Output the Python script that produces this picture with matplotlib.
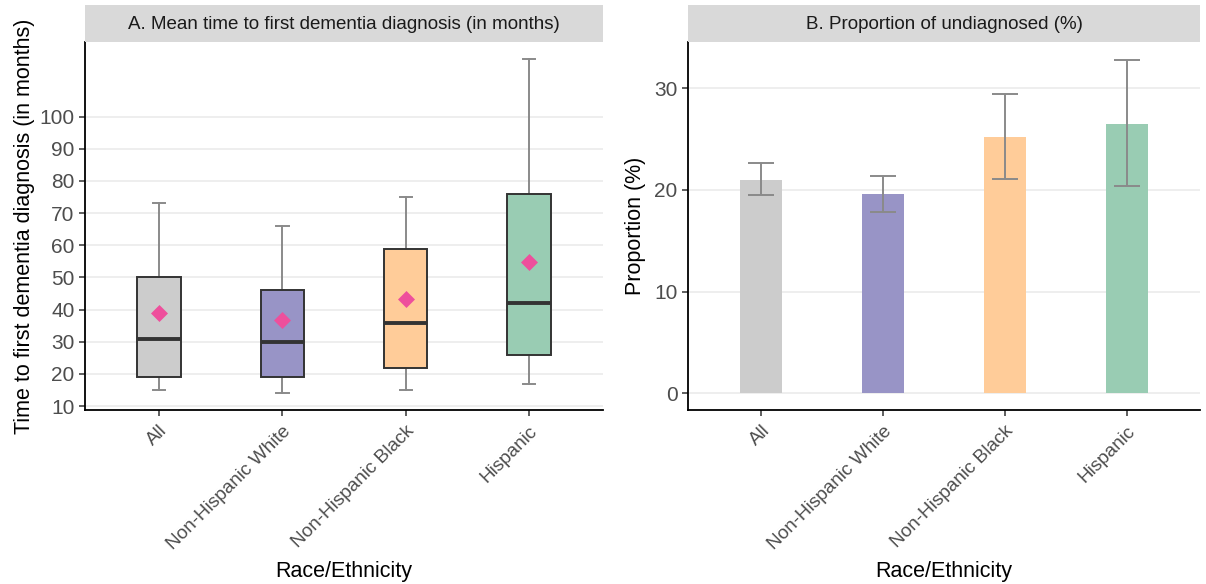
import matplotlib
matplotlib.use("Agg")
import matplotlib.pyplot as plt
from matplotlib.patches import Rectangle

plt.rcParams['font.family'] = ['Liberation Sans', 'DejaVu Sans']

# ---- data ----
groups = ["All", "Non-Hispanic White", "Non-Hispanic Black", "Hispanic"]
colors = ["#CCCCCC", "#9894C6", "#FFCC99", "#99CCB3"]

# Panel A: box stats (months)
whisk_low = [15, 14, 15, 17]
q1 = [19, 19, 22, 26]
median = [31, 30, 36, 42]
q3 = [50, 46, 59, 76]
whisk_high = [73, 66, 75, 118]
mean_time = [38.8, 36.8, 43.4, 54.8]

# Panel B: proportion undiagnosed (%)
prop = [21.0, 19.6, 25.2, 26.5]
prop_low = [19.5, 17.8, 21.1, 20.4]
prop_high = [22.6, 21.4, 29.4, 32.8]

yticks_a = [10, 20, 30, 40, 50, 60, 70, 80, 90, 100]
yticks_b = [0, 10, 20, 30]

W, H = 1206, 584
fig = plt.figure(figsize=(W / 100, H / 100), dpi=100)


def px_axes(x0, y0, x1, y1):
    return fig.add_axes([x0 / W, 1 - y1 / H, (x1 - x0) / W, (y1 - y0) / H])


TICK_COL = "#4D4D4D"
GRID_COL = "#EBEBEB"


def style(ax):
    for s in ["top", "right"]:
        ax.spines[s].set_visible(False)
    for s in ["left", "bottom"]:
        ax.spines[s].set_linewidth(1.3)
        ax.spines[s].set_color("black")
    ax.tick_params(axis="both", colors="#333333", labelcolor=TICK_COL,
                   length=4, width=1.1)
    ax.tick_params(axis="y", labelsize=15)
    ax.tick_params(axis="x", labelsize=13.7, pad=5)
    ax.yaxis.grid(True, color=GRID_COL, linewidth=1.2)
    ax.set_axisbelow(True)


def finish_x(ax):
    ax.set_xticks(range(len(groups)))
    ax.set_xticklabels(groups, rotation=45, ha="right", va="top",
                       rotation_mode="anchor")
    ax.set_xlim(-0.6, len(groups) - 0.4)
    ax.set_xlabel("Race/Ethnicity", fontsize=15.5, labelpad=6)


def strip(x0, x1, text):
    sax = px_axes(x0, 5, x1, 42)
    sax.set_xlim(0, 1)
    sax.set_ylim(0, 1)
    sax.axis("off")
    sax.add_patch(Rectangle((0, 0), 1, 1, facecolor="#D9D9D9",
                            edgecolor="none", transform=sax.transAxes))
    sax.text(0.5, 0.48, text, ha="center", va="center", fontsize=13.5,
             color="#1A1A1A")


# ---- Panel A ----
axA = px_axes(85, 42, 603, 410)
style(axA)
stats = []
for i in range(len(groups)):
    stats.append(dict(med=median[i], q1=q1[i], q3=q3[i],
                      whislo=whisk_low[i], whishi=whisk_high[i],
                      fliers=[]))
bp = axA.bxp(stats, positions=range(len(groups)), widths=0.35,
             patch_artist=True, showfliers=False, capwidths=0.1,
             whiskerprops=dict(color="#8A8A8A", linewidth=1.4),
             capprops=dict(color="#8A8A8A", linewidth=1.4),
             medianprops=dict(color="#333333", linewidth=2.8),
             boxprops=dict(edgecolor="#333333", linewidth=1.4))
for patch, c in zip(bp["boxes"], colors):
    patch.set_facecolor(c)
    patch.set_zorder(3)
for m in bp["medians"]:
    m.set_zorder(4)
axA.scatter(range(len(groups)), mean_time, marker="D", s=75,
            color="#EE4F9C", zorder=5, linewidths=0)
axA.set_ylim(8.8, 123.2)
axA.set_yticks(yticks_a)
axA.set_ylabel("Time to first dementia diagnosis (in months)",
               fontsize=15.5, labelpad=3)
finish_x(axA)
strip(85, 603, "A. Mean time to first dementia diagnosis (in months)")

# ---- Panel B ----
axB = px_axes(688, 42, 1200, 410)
style(axB)
axB.bar(range(len(groups)), prop, width=0.34, color=colors, zorder=2)
yerr = [[p - lo for p, lo in zip(prop, prop_low)],
        [hi - p for p, hi in zip(prop, prop_high)]]
axB.errorbar(range(len(groups)), prop, yerr=yerr, fmt="none",
             ecolor="#8A8A8A", elinewidth=1.4, capsize=9.2, capthick=1.4,
             zorder=3)
axB.set_ylim(-1.65, 34.55)
axB.set_yticks(yticks_b)
axB.set_ylabel("Proportion (%)", fontsize=15.5, labelpad=6)
finish_x(axB)
strip(688, 1200, "B. Proportion of undiagnosed (%)")

fig.savefig("out.png", dpi=100)
